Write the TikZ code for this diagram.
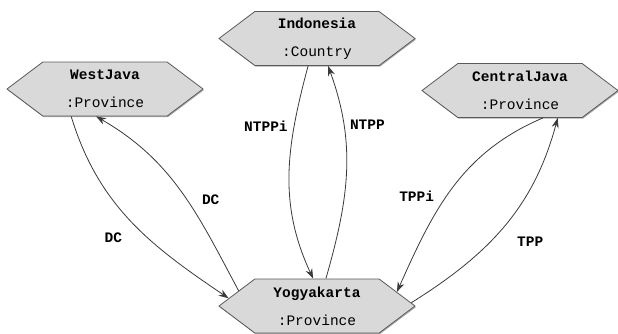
\documentclass[tikz,border=0pt]{standalone}
\usepackage{fontspec}
\setmonofont{Liberation Mono}
\usepackage{xcolor}
\usetikzlibrary{shapes.symbols, arrows.meta, shadows}

\definecolor{boxfill}{HTML}{D9D9D9}
\definecolor{boxline}{HTML}{5A5A5A}
\definecolor{edgeline}{HTML}{3A3A3A}

\tikzset{
    classbox/.style={draw=boxline, fill=boxfill, line width=0.8pt, shape=signal,
        signal to=west and east, signal pointer angle=74,
        minimum width=196pt, minimum height=54pt, inner sep=0pt,
        align=center, font=\ttfamily\fontsize{14.5}{28}\selectfont,
        drop shadow={shadow xshift=0.8pt, shadow yshift=-1.2pt, fill=gray!80, opacity=0.8}},
    relation/.style={draw=edgeline, line width=0.8pt, -{Stealth[length=10pt, width=7pt]}},
    rellabel/.style={font=\ttfamily\bfseries\fontsize{14.5}{16}\selectfont, inner sep=2pt}
}

\begin{document}
\begin{tikzpicture}[x=1pt, y=1pt]
        \useasboundingbox (0,0) rectangle (618,-333);

        \node[classbox] (indonesia) at (317,-38.5) {\textbf{Indonesia}\\:Country};
        \node[classbox, left of=indonesia, node distance=212pt, yshift=-50.5pt] (westjava) {\textbf{WestJava}\\:Province};
        \node[classbox, right of=indonesia, node distance=203pt, yshift=-52pt] (centraljava) {\textbf{CentralJava}\\:Province};
        \node[classbox, below of=indonesia, node distance=267.5pt] (yogyakarta) {\textbf{Yogyakarta}\\:Province};

        \draw[relation] (westjava.219) to[out=-73, in=146] node[rellabel, pos=0.6, left=23pt] {DC} (yogyakarta.175);
        \draw[relation] (yogyakarta.169) to[out=118, in=-30] node[rellabel, pos=0.45, right=13pt] {DC} (westjava.252);
        \draw[relation] (indonesia.252) to[out=-105, in=115] node[rellabel, pos=0.27, left=4pt] {NTPPi} (yogyakarta.98);
        \draw[relation] (yogyakarta.72) to[out=74, in=-70] node[rellabel, pos=0.73, right=4pt] {NTPP} (indonesia.292);
        \draw[relation] (centraljava.310) to[out=-157, in=66] node[rellabel, pos=0.55, left=10pt] {TPPi} (yogyakarta.10);
        \draw[relation] (yogyakarta.2) to[out=32, in=-105] node[rellabel, pos=0.4, right=25pt] {TPP} (centraljava.324);
    \end{tikzpicture}
\end{document}
